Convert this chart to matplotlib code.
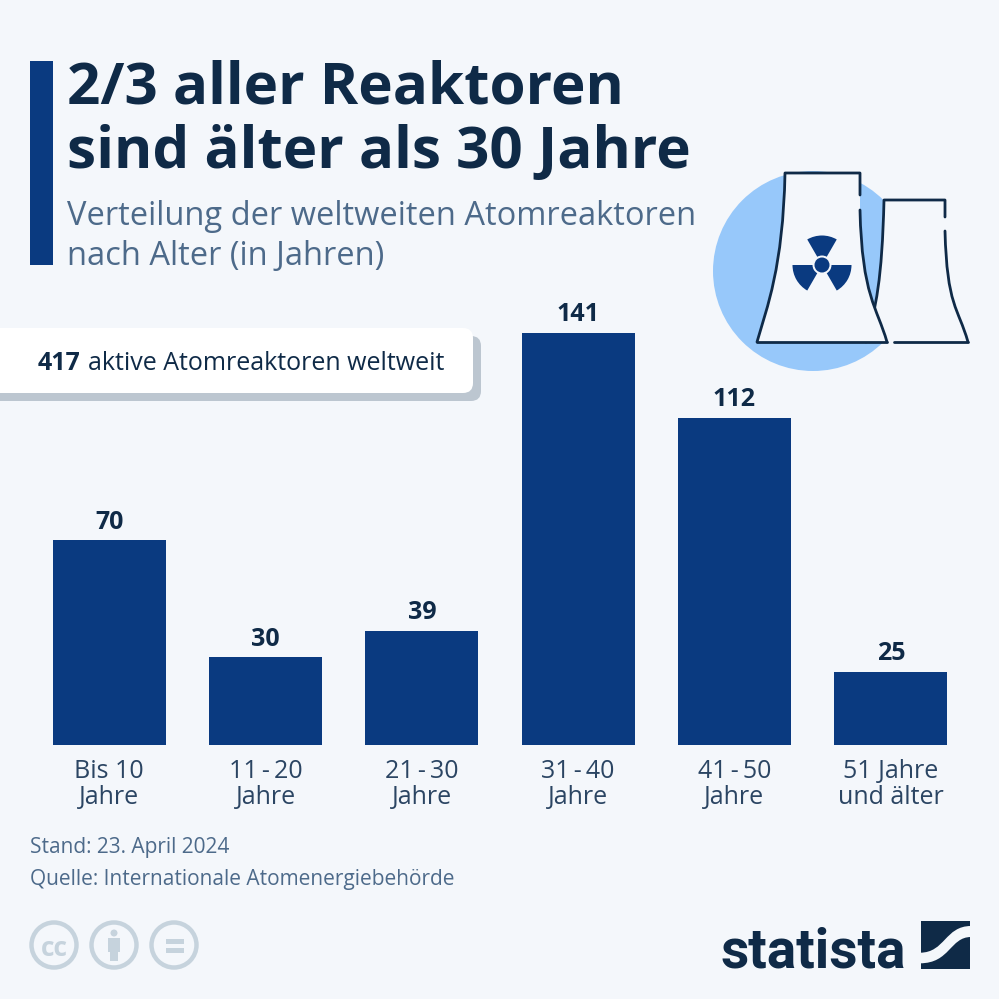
import matplotlib
matplotlib.use('Agg')
import matplotlib.pyplot as plt
from matplotlib.patches import Circle, FancyBboxPatch, PathPatch, Rectangle, Wedge
from matplotlib.path import Path

categories = ['Bis 10\nJahre', '11\u2009-\u200920\nJahre', '21\u2009-\u200930\nJahre', '31\u2009-\u200940\nJahre', '41\u2009-\u200950\nJahre', '51 Jahre\nund älter']
values = [70, 30, 39, 141, 112, 25]

BG = '#f4f7fb'
BLUE = '#0a3a80'
DARK = '#0f2a47'
GREY = '#4d6a8a'
TICK = '#2b4563'
LIGHT = '#c6d3dd'

plt.rcParams['font.family'] = ['Open Sans', 'DejaVu Sans']

fig = plt.figure(figsize=(9.99, 9.99), dpi=100, facecolor=BG)

# pixel layer for everything around the bars
bg = fig.add_axes([0, 0, 1, 1])
bg.set_xlim(0, 999)
bg.set_ylim(999, 0)
bg.axis('off')

bg.add_patch(Rectangle((30, 61), 23, 204, color=BLUE, lw=0))
bg.text(67, 103, '2/3 aller Reaktoren', fontsize=42.05, fontweight='bold', color=DARK, va='baseline')
bg.text(67, 168, 'sind älter als 30 Jahre', fontsize=42.05, fontweight='bold', color=DARK, va='baseline')
bg.text(67, 225, 'Verteilung der weltweiten Atomreaktoren', fontsize=23.5, color=GREY, va='baseline')
bg.text(67, 265, 'nach Alter (in Jahren)', fontsize=23.5, color=GREY, va='baseline')

# callout
bg.add_patch(FancyBboxPatch((-30, 336), 511, 65, boxstyle='round,pad=0,rounding_size=10', fc='#bcc6d0', ec='none'))
bg.add_patch(FancyBboxPatch((-30, 328), 503, 65, boxstyle='round,pad=0,rounding_size=10', fc='white', ec='none'))
bg.text(38, 370, '417', fontsize=18, fontweight='bold', color=DARK, va='baseline')
bg.text(88, 370, 'aktive Atomreaktoren weltweit', fontsize=18, color=DARK, va='baseline')

# cooling towers
bg.add_patch(Circle((813, 271), 100, fc='#97c8fa', ec='none'))


def tower(x0, x1, top, bottom, bl, br, gap0, gap1, bottom_start=None):
    C = Path.CURVE4
    fill = Path([(x0, top), (x1, top), (x1, gap1), (x1 + 2, (gap1 + bottom) / 2 + 20),
                 (br - 10, bottom - 35), (br, bottom), (bl, bottom),
                 (bl + 10, bottom - 35), (x0 - 2, (top + bottom) / 2 + 10), (x0, top), (x0, top)],
                [Path.MOVETO, Path.LINETO, Path.LINETO, C, C, C, Path.LINETO, C, C, C, Path.CLOSEPOLY])
    bg.add_patch(PathPatch(fill, fc=BG, ec='none'))
    kw = dict(fc='none', ec=DARK, lw=2, capstyle='round', joinstyle='round')
    left = Path([(bl, bottom), (bl + 10, bottom - 35), (x0 - 2, (top + bottom) / 2 + 10), (x0, top),
                 (x1, top), (x1, gap0)],
                [Path.MOVETO, C, C, C, Path.LINETO, Path.LINETO])
    bg.add_patch(PathPatch(left, **kw))
    right = Path([(x1, gap1), (x1 + 2, (gap1 + bottom) / 2 + 20), (br - 10, bottom - 35), (br, bottom)],
                 [Path.MOVETO, C, C, C])
    bg.add_patch(PathPatch(right, **kw))
    base = Path([(bl if bottom_start is None else bottom_start, bottom), (br, bottom)])
    bg.add_patch(PathPatch(base, **kw))


tower(884, 945, 200, 342, 866, 968, 217, 231, bottom_start=894)
tower(785, 860, 173, 342, 757, 887, 195, 210)

for ang in [-90, 30, 150]:
    bg.add_patch(Wedge((822, 265), 29.5, ang - 30, ang + 30, width=20, fc=BLUE, ec='none'))
bg.add_patch(Circle((822, 265), 7.5, fc=BLUE, ec='none'))

# footer
bg.text(30, 853, 'Stand: 23. April 2024', fontsize=15, color=GREY, va='baseline')
bg.text(30, 885, 'Quelle: Internationale Atomenergiebehörde', fontsize=15, color=GREY, va='baseline')

# licence icons
for cx in [54, 114, 174]:
    bg.add_patch(Circle((cx, 945), 22.5, fc='none', ec=LIGHT, lw=3.2))
bg.text(54, 945, 'cc', fontsize=19, fontweight='bold', color=LIGHT, ha='center', va='center_baseline')
bg.add_patch(Circle((114, 933), 3.5, fc=LIGHT, ec='none'))
bg.add_patch(Rectangle((108, 938), 12, 14, fc=LIGHT, ec='none'))
bg.add_patch(Rectangle((110, 950), 8, 11, fc=LIGHT, ec='none'))
bg.add_patch(Rectangle((166, 939), 18, 4.5, fc=LIGHT, ec='none'))
bg.add_patch(Rectangle((166, 948), 18, 4.5, fc=LIGHT, ec='none'))

# statista logo
bg.text(720, 968, 'statista', fontsize=39.5, fontweight='bold', color=DARK, va='baseline',
        family=['Roboto', 'Liberation Sans'])
bg.add_patch(Rectangle((921, 921), 49, 48, fc=DARK, ec='none'))
C = Path.CURVE4
swoosh = Path([(920, 952.7), (945, 952.7), (945, 926), (971, 926), (971, 937), (950, 937), (950, 963.3), (920, 963.3), (920, 952.7)],
              [Path.MOVETO, C, C, C, Path.LINETO, C, C, C, Path.CLOSEPOLY])
bg.add_patch(PathPatch(swoosh, fc=BG, ec='none'))

# bars
ax = fig.add_axes([31 / 999, (999 - 745) / 999, 938 / 999, 445 / 999])
ax.patch.set_alpha(0)
bars = ax.bar(range(len(values)), values, width=0.723, color=BLUE)
ax.set_xlim(-0.5, 5.5)
ax.set_ylim(0, 152.3)
ax.bar_label(bars, padding=4, fontsize=18, fontweight='bold', color=DARK)
ax.set_xticks(range(len(values)))
ax.set_xticklabels(categories, fontsize=18, color=TICK, linespacing=1.06)
ax.set_yticks([])
ax.tick_params(axis='x', length=0, pad=10)
for s in ax.spines.values():
    s.set_visible(False)

fig.savefig('out.png', dpi=100, facecolor=BG)
